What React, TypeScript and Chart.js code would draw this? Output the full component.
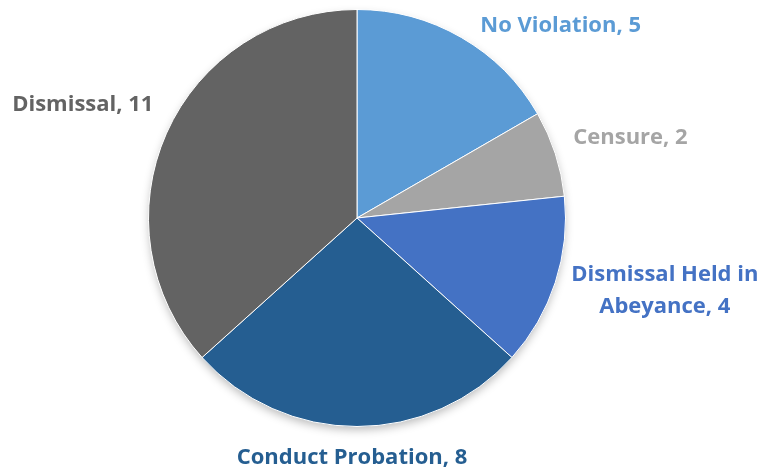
import React, { useEffect, useRef } from "react";
import { Chart, registerables } from "chart.js";

Chart.register(...registerables);

const categories = ["No Violation", "Censure", "Dismissal Held in Abeyance", "Conduct Probation", "Dismissal"];
const counts = [5, 2, 4, 8, 11];
const colors = ["#5B9BD5", "#A5A5A5", "#4472C4", "#255E91", "#636363"];

const FONT = "bold 22px 'Open Sans', Lato, sans-serif";
const MAX_SIDE_WIDTH = 200;
// small per-label layout adjustments (style only)
const nudgeX = [8, -3, -5, -5, 7];
const nudgeY = [7, -9, 2, 3, -20];

const shadowPlugin = {
  id: "pieShadow",
  beforeDatasetsDraw(chart: any) {
    const meta = chart.getDatasetMeta(0);
    const arc = meta.data[0];
    if (!arc) return;
    const { x, y, outerRadius } = arc.getProps(["x", "y", "outerRadius"], true);
    const ctx = chart.ctx;
    ctx.save();
    ctx.shadowColor = "rgba(0,0,0,0.28)";
    ctx.shadowBlur = 10;
    ctx.shadowOffsetY = 4;
    ctx.beginPath();
    ctx.arc(x, y, outerRadius - 1, 0, Math.PI * 2);
    ctx.fillStyle = "#888";
    ctx.fill();
    ctx.restore();
  },
};

const labelPlugin = {
  id: "outLabels",
  afterDatasetsDraw(chart: any) {
    const ctx = chart.ctx;
    const meta = chart.getDatasetMeta(0);
    ctx.save();
    ctx.font = FONT;
    ctx.textBaseline = "middle";
    meta.data.forEach((el: any, i: number) => {
      const p = el.getProps(["x", "y", "startAngle", "endAngle", "outerRadius"], true);
      const mid = (p.startAngle + p.endAngle) / 2;
      const c = Math.cos(mid);
      const s = Math.sin(mid);
      const r = p.outerRadius + 22;
      const ax = p.x + r * c + nudgeX[i];
      const ay = p.y + r * s + (Math.abs(c) < 0.3 ? 6 : 0) + nudgeY[i];
      const text = `${categories[i]}, ${counts[i]}`;
      let mode = "center";
      if (c > 0.3) mode = "left";
      else if (c < -0.3) mode = "right";
      const avail = mode === "center" ? 1000 : MAX_SIDE_WIDTH;
      const words = text.split(" ");
      const lines: string[] = [];
      let cur = "";
      words.forEach((w) => {
        const t = cur ? cur + " " + w : w;
        if (ctx.measureText(t).width > avail && cur) {
          lines.push(cur);
          cur = w;
        } else cur = t;
      });
      if (cur) lines.push(cur);
      const bw = Math.max(...lines.map((l) => ctx.measureText(l).width));
      let cx = ax;
      if (mode === "left") cx = ax + bw / 2;
      if (mode === "right") cx = ax - bw / 2;
      const lh = 32;
      const top = ay - ((lines.length - 1) * lh) / 2;
      ctx.fillStyle = colors[i];
      ctx.textAlign = "center";
      lines.forEach((l, k) => ctx.fillText(l, cx, top + k * lh));
    });
    ctx.restore();
  },
};

export default function App() {
  const ref = useRef<HTMLCanvasElement>(null);
  useEffect(() => {
    document.body.style.margin = "0";
    const chart = new Chart(ref.current!, {
      type: "pie",
      data: {
        labels: categories,
        datasets: [
          {
            data: counts,
            backgroundColor: colors,
            borderColor: "#ffffff",
            borderWidth: 1,
          },
        ],
      },
      options: {
        animation: false,
        responsive: false,
        maintainAspectRatio: false,
        layout: { padding: { left: 100, right: 146, top: 9, bottom: 45 } },
        plugins: {
          legend: { display: false },
          tooltip: { enabled: false },
        },
      },
      plugins: [shadowPlugin, labelPlugin],
    });
    return () => chart.destroy();
  }, []);
  return (
    <div style={{ width: 760, height: 472, background: "#fff" }}>
      <canvas ref={ref} width={760} height={472} style={{ display: "block" }} />
    </div>
  );
}
